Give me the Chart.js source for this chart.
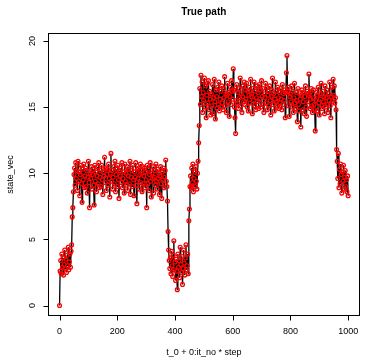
<!DOCTYPE html>
<html>
<head>
<meta charset="utf-8">
<script src="https://cdn.jsdelivr.net/npm/chart.js@4"></script>
<style>
  html, body { margin: 0; padding: 0; background: #fff; }
  #wrap { width: 365px; height: 361px; }
</style>
</head>
<body>
<div id="wrap"><canvas id="c" width="365" height="361"></canvas></div>
<script>
// t_0 + 0:it_no * step
const t0 = 0;
const step = 2;

// state values, one per step
const stateVec = [
  0,
  2.6, 3.4, 2.4, 3.9, 2.9, 3.6, 2.3, 3.1, 4.2, 2.8, 3.5, 2.5, 3.8, 3.0, 4.4, 2.7, 3.3, 3.9, 2.9, 4.1,
  4.6, 6.7, 7.4, 8.6, 9.9,
  10.4, 9.1, 10.8, 9.6, 10.2, 8.7, 10.9, 9.4, 10.1, 8.3, 9.9, 10.6, 9.2, 7.8, 10.3, 9.5, 10.7, 8.9, 9.8, 10.4,
  9.0, 10.2, 8.5, 9.7, 10.9, 9.3, 7.4, 10.0, 9.6, 10.5, 8.8, 9.9, 10.3, 9.1, 7.6, 10.6, 9.4, 10.1, 8.6, 9.8,
  10.5, 9.2, 10.8, 8.9, 9.7, 10.2, 9.0, 10.6, 9.5, 8.4, 10.1, 9.8, 11.2, 9.3, 10.4, 8.7, 9.9, 10.3, 9.1, 10.7,
  9.6, 8.2, 10.0, 11.5, 9.4, 10.2, 8.8, 9.7, 10.5, 9.2, 10.9, 8.6, 9.9, 10.3, 9.0, 10.6, 9.5, 8.1, 10.2, 9.8,
  10.4, 9.3, 10.8, 8.9, 9.6, 10.1, 8.5, 10.7, 9.4, 10.0, 9.1, 10.5, 8.7, 9.8, 10.3, 9.2, 10.9, 8.4, 9.7, 10.2,
  9.0, 10.6, 9.5, 8.3, 10.1, 9.7, 10.8, 9.1, 7.7, 10.3, 9.6, 10.4, 8.8, 9.9, 10.7, 9.3, 10.0, 8.6, 10.5, 9.2,
  9.8, 10.4, 8.9, 10.1, 9.5, 7.4, 10.6, 9.2, 10.3, 8.7, 9.9, 10.8, 9.4, 8.2, 10.0, 9.6, 10.5, 8.5, 9.7, 10.2,
  9.1, 10.7, 9.4, 8.8, 10.3, 9.6, 10.0, 8.4, 9.8, 10.5, 9.2, 8.1, 10.1, 9.5, 10.4, 8.9, 9.7, 10.2, 11.0, 9.4,
  9.0, 7.9, 5.6, 4.2, 3.4, 2.8,
  3.6, 2.4, 4.1, 3.0, 2.2, 3.8, 4.9, 2.7, 3.3, 1.9, 3.5, 2.6, 1.2, 3.9, 2.9, 3.4,
  2.1, 4.4, 3.1, 2.5, 3.7, 1.6, 2.8, 4.2, 3.2, 2.3, 3.6, 4.6, 2.7, 3.0, 3.9, 2.4,
  6.4, 7.3, 9.0,
  9.8, 8.9, 10.4, 9.3, 10.7, 8.6, 9.6, 10.1, 9.0, 10.5, 9.4, 8.8, 10.0,
  10.9, 12.3, 13.6,
  16.4, 15.2, 17.4, 15.8, 16.9, 14.6, 16.1, 15.5, 17.2, 15.0, 16.6, 14.2, 15.9, 16.8, 15.3, 17.0, 14.8, 16.2, 15.6, 14.4,
  16.0, 15.1, 16.7, 14.5, 15.7, 17.1, 15.4, 14.1, 16.3, 15.8, 14.9, 16.5, 15.2, 16.9, 14.7, 15.6, 16.2, 15.0, 16.6, 15.3,
  14.8, 16.4, 15.7, 17.3, 15.1, 16.0, 14.6, 15.9, 16.8, 15.4, 16.1, 14.3, 15.8, 16.5, 15.2, 17.0, 16.2, 15.6, 17.9, 16.3,
  15.0, 14.2, 13.0, 15.5, 16.7, 15.3, 16.1, 14.9, 16.4, 15.7, 17.2, 15.1, 16.0, 14.6, 15.8, 16.6, 15.4, 16.9, 15.2, 16.3,
  15.6, 16.8, 15.0, 16.2, 14.7, 15.9, 16.5, 15.3, 17.1, 15.8, 16.0, 14.5, 16.4, 15.5, 16.9, 15.1, 16.2, 14.8, 15.7, 16.6,
  15.4, 16.1, 14.9, 16.7, 15.6, 16.3, 15.0, 17.0, 15.8, 16.4, 15.2, 14.6, 16.0, 15.7, 16.8, 15.3, 16.5, 14.8, 15.9, 16.2,
  15.1, 16.6, 15.5, 14.4, 16.3, 15.8, 17.2, 15.2, 16.0, 14.7, 15.6, 16.9, 15.4, 16.2, 15.0, 16.5, 15.7, 14.9, 16.1, 15.3,
  16.4, 15.6, 14.8, 16.7, 15.2, 16.0, 15.5, 16.3, 14.2, 16.1, 17.6, 18.9, 16.2, 15.1, 16.5, 14.3, 15.8, 16.0, 15.4, 16.6,
  15.0, 16.2, 14.6, 15.7, 16.8, 15.3, 14.9, 16.1, 15.5, 13.9, 16.4, 15.2, 14.7, 16.0, 15.6, 13.5, 15.9, 16.3, 14.8, 15.4,
  16.1, 14.5, 15.8, 16.6, 15.0, 14.3, 16.2, 15.4, 15.9, 17.5, 16.0, 14.9, 15.6, 16.4, 15.1, 14.6, 15.7, 16.3, 15.2, 14.8,
  13.2, 15.5, 16.1, 14.7, 15.9, 16.5, 15.3, 14.4, 16.0, 15.6, 16.8, 15.1, 14.9, 16.2, 15.4, 15.8, 14.5, 16.6, 15.0, 15.7,
  16.3, 15.2, 14.6, 16.0, 15.5, 16.9, 15.1, 14.2, 15.8, 16.5, 15.4, 17.1, 15.9, 16.6, 15.3, 15.7,
  14.8, 11.8,
  10.9, 9.6, 11.5, 8.9, 10.3, 9.2, 10.7, 9.9, 8.5, 10.1, 9.4, 10.6, 8.8, 9.7, 10.2, 9.0, 9.5, 8.6, 9.8, 8.3
];

const xTicks = [0, 200, 400, 600, 800, 1000];
const yTicks = [0, 5, 10, 15, 20];

const mainTitle = 'True path';
const xLabel = 't_0 + 0:it_no * step';
const yLabel = 'state_vec';

const FONT = '"Liberation Sans", Arial, Helvetica, sans-serif';

// base-graphics look: box, outward ticks, rotated y labels
const rFrame = {
    id: 'rFrame',
    afterDraw(chart) {
        const { ctx, chartArea: a, scales } = chart;
        const L = Math.round(a.left) + 0.5;
        const T = Math.round(a.top) + 0.5;
        const R = Math.round(a.right) - 0.5;
        const B = Math.round(a.bottom) - 0.5;
        ctx.save();
        ctx.strokeStyle = '#000';
        ctx.lineWidth = 1;
        ctx.strokeRect(L, T, R - L, B - T);

        ctx.fillStyle = '#000';
        ctx.font = '9px ' + FONT;
        ctx.textAlign = 'center';
        ctx.textBaseline = 'middle';

        // x axis
        ctx.beginPath();
        xTicks.forEach(v => {
            const px = Math.round(scales.x.getPixelForValue(v)) + 0.5;
            ctx.moveTo(px, B); ctx.lineTo(px, B + 5);
        });
        ctx.stroke();
        xTicks.forEach(v => {
            ctx.fillText(String(v), scales.x.getPixelForValue(v), B + 16);
        });

        // y axis
        ctx.beginPath();
        yTicks.forEach(v => {
            const py = Math.round(scales.y.getPixelForValue(v)) + 0.5;
            ctx.moveTo(L, py); ctx.lineTo(L - 5, py);
        });
        ctx.stroke();
        yTicks.forEach(v => {
            ctx.save();
            ctx.translate(L - 16, scales.y.getPixelForValue(v));
            ctx.rotate(-Math.PI / 2);
            ctx.fillText(String(v), 0, 0);
            ctx.restore();
        });

        // titles
        const cx = (a.left + a.right) / 2;
        ctx.fillText(xLabel, cx, 353);
        ctx.save();
        ctx.translate(11, (a.top + a.bottom) / 2);
        ctx.rotate(-Math.PI / 2);
        ctx.fillText(yLabel, 0, 0);
        ctx.restore();

        ctx.font = 'bold 10px ' + FONT;
        ctx.fillText(mainTitle, cx, 12);
        ctx.restore();
    }
};

const points = stateVec.map((v, i) => ({ x: t0 + i * step, y: v }));

new Chart(document.getElementById('c'), {
    type: 'line',
    data: {
        datasets: [{
            data: points,
            borderColor: '#000',
            borderWidth: 1.3,
            tension: 0,
            pointStyle: 'circle',
            pointRadius: 1.9,
            pointBorderWidth: 1.3,
            pointBorderColor: '#ff0000',
            pointBackgroundColor: 'rgba(0,0,0,0)'
        }]
    },
    options: {
        responsive: false,
        animation: false,
        devicePixelRatio: 1,
        layout: { padding: { left: 48, right: 2, top: 33, bottom: 45 } },
        plugins: {
            legend: { display: false },
            title: { display: false },
            tooltip: { enabled: false }
        },
        scales: {
            x: { type: 'linear', display: false, min: -40, max: 1040 },
            y: { type: 'linear', display: false, min: -0.79, max: 20.6 }
        }
    },
    plugins: [rFrame]
});
</script>
</body>
</html>
